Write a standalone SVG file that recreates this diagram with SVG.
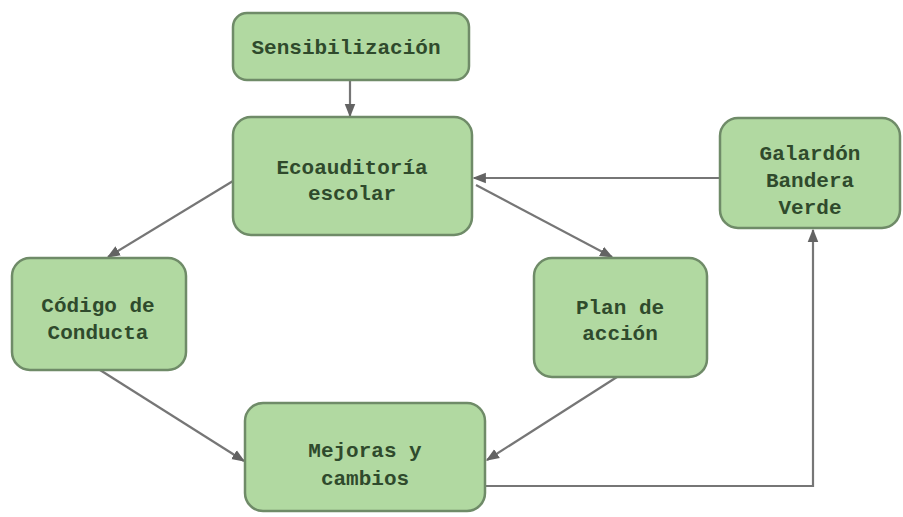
<svg xmlns="http://www.w3.org/2000/svg" width="903" height="517" viewBox="0 0 903 517">
<style>
.box{fill:#b1d9a1;stroke:#6f8b68;stroke-width:2.5}
.t{font-family:"Liberation Mono","DejaVu Sans Mono",monospace;font-weight:bold;font-size:21px;fill:#2f4a2c;text-anchor:middle}
.c{fill:none;stroke:#767676;stroke-width:2.2;marker-end:url(#ah)}
</style>
<defs>
<marker id="ah" viewBox="0 0 10 10" refX="9" refY="5" markerWidth="6" markerHeight="6" markerUnits="strokeWidth" orient="auto">
<path d="M0,1 L10,5 L0,9 z" fill="#636363"/>
</marker>
</defs>
<rect width="903" height="517" fill="#ffffff"/>
<g id="connectors">
<path class="c" d="M350,80 L350,116"/>
<path class="c" d="M720,178 L474,178"/>
<path class="c" d="M476,185 L612,257"/>
<path class="c" d="M233,181 L108,257"/>
<path class="c" d="M100,370 L244,461"/>
<path class="c" d="M617,377 L487,460"/>
<path class="c" d="M485,486 L813,486 L813,230"/>
</g>
<g id="sensibilizacion">
<rect class="box" x="233" y="13" width="236" height="67" rx="14"/>
<text class="t" x="346" y="54">Sensibilización</text>
</g>
<g id="ecoauditoria">
<rect class="box" x="233" y="117" width="239" height="118" rx="18"/>
<text class="t" x="352" y="174">Ecoauditoría</text>
<text class="t" x="352" y="200">escolar</text>
</g>
<g id="galardon">
<rect class="box" x="720" y="118" width="180" height="110" rx="18"/>
<text class="t" x="810" y="160">Galardón</text>
<text class="t" x="810" y="187">Bandera</text>
<text class="t" x="810" y="214">Verde</text>
</g>
<g id="codigo">
<rect class="box" x="12" y="258" width="174" height="112" rx="18"/>
<text class="t" x="98" y="312">Código de</text>
<text class="t" x="98" y="339">Conducta</text>
</g>
<g id="plan">
<rect class="box" x="534" y="258" width="173" height="119" rx="18"/>
<text class="t" x="620" y="314">Plan de</text>
<text class="t" x="620" y="340">acción</text>
</g>
<g id="mejoras">
<rect class="box" x="245" y="403" width="240" height="108" rx="18"/>
<text class="t" x="365" y="457">Mejoras y</text>
<text class="t" x="365" y="485">cambios</text>
</g>
</svg>
